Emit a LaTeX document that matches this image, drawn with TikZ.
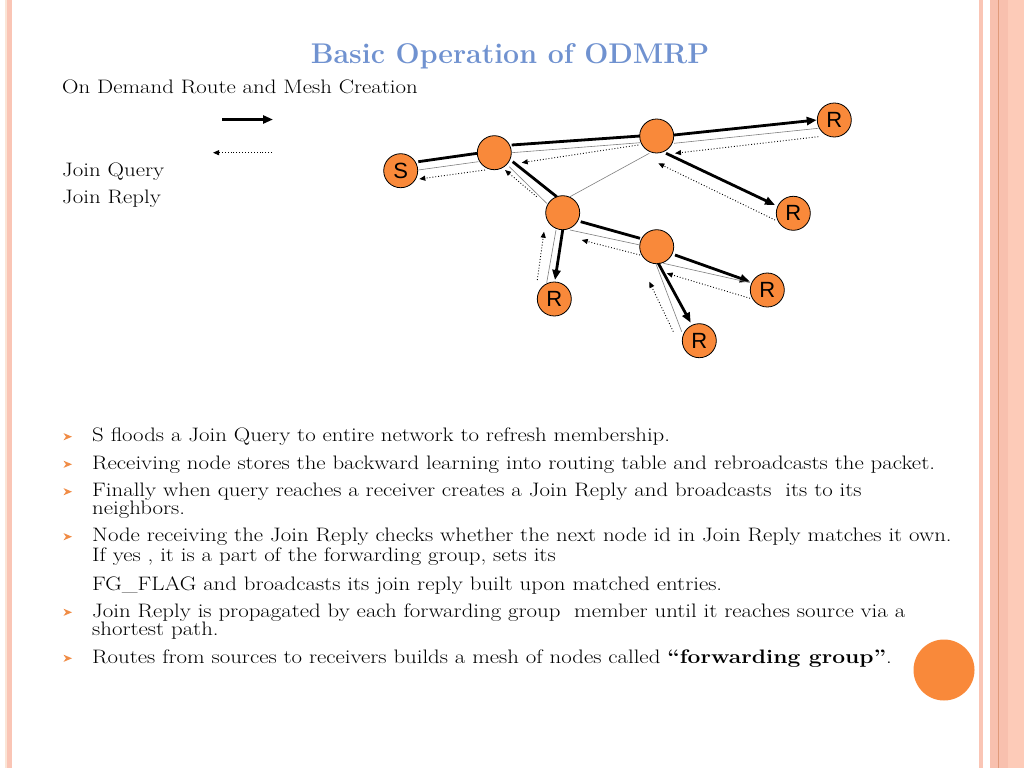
\documentclass[tikz,border=0pt]{standalone}
\usepackage{fontspec}
\newfontfamily\sansf{Liberation Sans}
\newfontfamily\bodyf[FakeStretch=1.17]{Latin Modern Roman}
\usetikzlibrary{arrows.meta}
\definecolor{nodeorange}{RGB}{249,137,58}
\definecolor{titleblue}{RGB}{112,146,208}
\definecolor{salmonA}{RGB}{250,197,181}
\definecolor{salmonB}{RGB}{253,203,184}
\definecolor{salmonC}{RGB}{248,192,174}
\definecolor{salmonLine}{RGB}{224,154,122}
\definecolor{paleA}{RGB}{251,229,214}
\definecolor{bulletorange}{RGB}{240,140,70}
\tikzset{
  net/.style={circle,draw=black,line width=0.8pt,fill=nodeorange,minimum size=34pt,inner sep=0pt,font=\sansf\fontsize{22}{22}\selectfont},
  deco/.style={circle,fill=nodeorange,minimum size=61pt,inner sep=0pt},
  qarrow/.style={line width=2.8pt,-{Triangle[length=10pt,width=8pt]}},
  qline/.style={line width=2.8pt},
  rarrow/.style={line width=0.9pt,dotted,-{Triangle[length=6pt,width=5pt]}},
  link/.style={line width=0.6pt,gray},
  txt/.style={anchor=base west,inner sep=0pt,font=\bodyf\fontsize{19.5}{22}\selectfont},
  titletxt/.style={inner sep=0pt,anchor=base,text=titleblue,font=\bfseries\fontsize{28.5}{30}\selectfont}
}
\begin{document}
\begin{tikzpicture}[x=1pt,y=-1pt]
\useasboundingbox (0,0) rectangle (1024,768);
\fill[white] (0,0) rectangle (1024,768);
% borders
\fill[paleA] (5,0) rectangle (7.3,768);
\fill[salmonA] (7.3,0) rectangle (12,768);
\fill[salmonA] (979,0) rectangle (983.3,768);
\fill[salmonC] (990,0) rectangle (1008.3,768);
\fill[salmonB] (1008.3,0) rectangle (1024,768);
\fill[salmonLine] (998,0) rectangle (999,768);
% title and texts
\node[titletxt] (title) at (510,63.3) {Basic Operation of ODMRP};
\node[txt] (sub) at (62,93.3) {On Demand Route and Mesh Creation};
\node[txt] (jq) at (62,176.7) {Join Query};
\node[txt] (jr) at (62,203.3) {Join Reply};
% legend arrows
\coordinate (lq1) at (222,119.5);
\coordinate (lq2) at (273,119.5);
\coordinate (lr1) at (272,152.7);
\coordinate (lr2) at (213,152.7);
\draw[qarrow] (lq1) -- (lq2);
\draw[rarrow] (lr1) -- (lr2);
% network nodes
\node[net] (S) at (400.7,170.7) {S};
\node[net] (N1) at (494.3,152.7) {};
\node[net] (N2) at (656.7,136) {};
\node[net] (R1) at (834.3,120) {R};
\node[net] (R2) at (793.3,213.3) {R};
\node[net] (N3) at (562.7,212.7) {};
\node[net] (N4) at (656.7,246.7) {};
\node[net] (R3) at (554.3,299) {R};
\node[net] (R4) at (767.3,290) {R};
\node[net] (R5) at (699.3,340.7) {R};
% S - N1
\draw[qline] ([shift={(17.6,-9)}]S.center) -- ([shift={(-17,0.6)}]N1.center);
\draw[link] ([shift={(17.6,-0.7)}]S.center) -- ([shift={(-16,9)}]N1.center);
\draw[rarrow] ([shift={(-9.3,17.3)}]N1.center) -- ([shift={(18.6,8.3)}]S.center);
% N1 - N2
\draw[qline] ([shift={(17.4,-7.7)}]N1.center) -- ([shift={(-16.7,0)}]N2.center);
\draw[link] ([shift={(17.4,0)}]N1.center) -- ([shift={(-16.7,6.7)}]N2.center);
\draw[rarrow] ([shift={(-18.4,9)}]N2.center) -- ([shift={(27.4,10)}]N1.center);
% N2 - R1
\draw[qarrow] ([shift={(17.3,-1)}]N2.center) -- ([shift={(-17.6,0)}]R1.center);
\draw[link] ([shift={(17.3,7.3)}]N2.center) -- ([shift={(-16,8.3)}]R1.center);
\draw[rarrow] ([shift={(-16,16.7)}]R1.center) -- ([shift={(18.3,17.3)}]N2.center);
% N2 - R2
\draw[qarrow] ([shift={(9.3,17.3)}]N2.center) -- ([shift={(-18.3,-8.3)}]R2.center);
\draw[rarrow] ([shift={(-18.3,6.7)}]R2.center) -- ([shift={(1.6,27.3)}]N2.center);
% N2 - N3
\draw[link] ([shift={(-7.4,17.3)}]N2.center) -- ([shift={(7.3,-16)}]N3.center);
% N1 - N3
\draw[qline] ([shift={(18.4,9)}]N1.center) -- ([shift={(-6,-16)}]N3.center);
\draw[link] ([shift={(15,14)}]N1.center) -- ([shift={(-16,-9.4)}]N3.center);
\draw[rarrow] ([shift={(-26,-16)}]N3.center) -- ([shift={(10.7,17.3)}]N1.center);
% N3 - R3
\draw[qarrow] ([shift={(0,17.3)}]N3.center) -- ([shift={(0.7,-19)}]R3.center);
\draw[link] ([shift={(-6.7,17.3)}]N3.center) -- ([shift={(-7.6,-16.3)}]R3.center);
\draw[rarrow] ([shift={(-17,-19)}]R3.center) -- ([shift={(-18.7,19)}]N3.center);
% N3 - N4
\draw[qline] ([shift={(18,9)}]N3.center) -- ([shift={(-16.7,-8.4)}]N4.center);
\draw[link] ([shift={(7.3,17.3)}]N3.center) -- ([shift={(-16.7,-1.7)}]N4.center);
\draw[rarrow] ([shift={(-16.7,8.3)}]N4.center) -- ([shift={(19,27.3)}]N3.center);
% N4 - R4
\draw[qarrow] ([shift={(18.3,8.3)}]N4.center) -- ([shift={(-17.3,-8.3)}]R4.center);
\draw[link] ([shift={(6.6,16.6)}]N4.center) -- ([shift={(-17.3,-7.3)}]R4.center);
\draw[rarrow] ([shift={(-17.3,8.3)}]R4.center) -- ([shift={(10,26.6)}]N4.center);
% N4 - R5
\draw[qarrow] ([shift={(1.6,16.6)}]N4.center) -- ([shift={(-8.6,-18)}]R5.center);
\draw[link] ([shift={(-0.7,17.3)}]N4.center) -- ([shift={(-17.6,-9)}]R5.center);
\draw[rarrow] ([shift={(-26,-9)}]R5.center) -- ([shift={(-7.4,35)}]N4.center);
% bullets
\foreach \by in {436.7,464.3,491.7,536.7,612.3,658.3}{
  \fill[bulletorange] (63.5,\by-3.6) -- (72,\by) -- (63.5,\by+3.6) -- (66,\by) -- cycle;
}
% bullet texts
\node[txt] (t1) at (92,441.7) {S floods a Join Query to entire network to refresh membership.};
\node[txt] (t2) at (92,469.3) {Receiving node stores the backward learning into routing table and rebroadcasts the packet.};
\node[txt] (t3) at (92,496.7) {Finally when query reaches a receiver creates a Join Reply and broadcasts\ \ its to its};
\node[txt] (t3b) at (92,514.5) {neighbors.};
\node[txt] (t4) at (92,541.7) {Node receiving the Join Reply checks whether the next node id in Join Reply matches it own.};
\node[txt] (t4b) at (92,561.7) {If yes , it is a part of the forwarding group, sets its};
\node[txt] (t4c) at (92,590) {FG\_FLAG and broadcasts its join reply built upon matched entries.};
\node[txt] (t5) at (92,617.3) {Join Reply is propagated by each forwarding group\ \ member until it reaches source via a};
\node[txt] (t5b) at (92,635.3) {shortest path.};
\node[txt] (t6) at (92,663.3) {Routes from sources to receivers builds a mesh of nodes called \textbf{“forwarding group”}.};
% decorative circle
\node[deco] (dc) at (944,670) {};
\end{tikzpicture}
\end{document}
